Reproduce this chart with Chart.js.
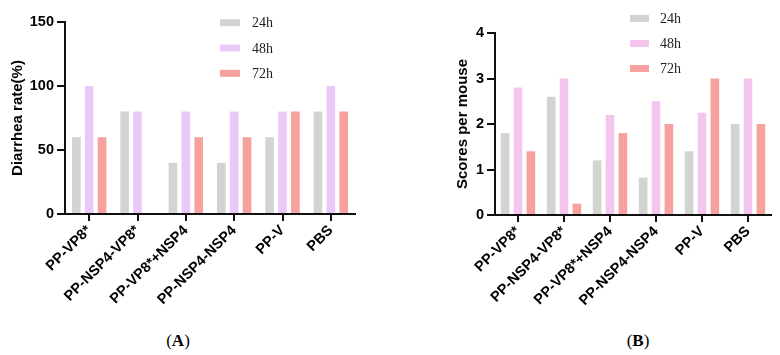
<!DOCTYPE html>
<html>
<head>
<meta charset="utf-8">
<script src="https://cdn.jsdelivr.net/npm/chart.js@4.4.1/dist/chart.umd.min.js"></script>
<style>
  html, body { margin: 0; padding: 0; background: #fff; }
  body { width: 780px; height: 355px; position: relative; overflow: hidden; }
  .wrap { position: absolute; top: 0; width: 390px; height: 320px; }
  .cap { position: absolute; top: 331px; font-family: "Liberation Serif", "Times New Roman", serif; font-size: 17px; color: #000; transform: translateX(-50%); }
</style>
</head>
<body>
<div class="wrap" style="left:0"><canvas id="cA" width="390" height="320"></canvas></div>
<div class="wrap" style="left:390px"><canvas id="cB" width="390" height="320"></canvas></div>
<div class="cap" style="left:178px">(<b>A</b>)</div>
<div class="cap" style="left:638px">(<b>B</b>)</div>
<script>
const categories = ["PP-VP8*", "PP-NSP4-VP8*", "PP-VP8*+NSP4", "PP-NSP4-NSP4", "PP-V", "PBS"];
const seriesNames = ["24h", "48h", "72h"];

const rate24 = [60, 80, 40, 40, 60, 80];
const rate48 = [100, 80, 80, 80, 80, 100];
const rate72 = [60, 0, 60, 60, 80, 80];

const score24 = [1.8, 2.6, 1.2, 0.82, 1.4, 2.0];
const score48 = [2.8, 3.0, 2.2, 2.5, 2.25, 3.0];
const score72 = [1.4, 0.25, 1.8, 2.0, 3.0, 2.0];

const rateTicks = [0, 50, 100, 150];
const scoreTicks = [0, 1, 2, 3, 4];

const boxLegend = {
  id: 'boxLegend',
  afterDraw(chart, args, opts) {
    const ctx = chart.ctx;
    ctx.save();
    chart.data.datasets.forEach((ds, i) => {
      const cy = opts.y0 + i * opts.dy;
      ctx.fillStyle = ds.backgroundColor;
      ctx.fillRect(opts.x, cy - opts.boxH / 2, opts.boxW, opts.boxH);
      ctx.fillStyle = '#222';
      ctx.font = '14px "Liberation Serif", "Times New Roman", serif';
      ctx.textBaseline = 'middle';
      ctx.textAlign = 'left';
      ctx.fillText(ds.label, opts.textX, cy + 1);
    });
    ctx.restore();
  }
};

const tickFont = { family: '"Liberation Sans", Arial, sans-serif', size: 14.5, weight: 'bold' };

function makeChart(id, d1, d2, d3, colors, yMax, yStep, yTitle, cfg) {
  return new Chart(document.getElementById(id), {
    type: 'bar',
    data: {
      labels: categories,
      datasets: [
        { label: seriesNames[0], data: d1, backgroundColor: colors[0] },
        { label: seriesNames[1], data: d2, backgroundColor: colors[1] },
        { label: seriesNames[2], data: d3, backgroundColor: colors[2] }
      ]
    },
    plugins: [boxLegend],
    options: {
      responsive: false,
      animation: false,
      events: [],
      categoryPercentage: cfg.cp,
      barPercentage: 0.67,
      layout: { padding: { left: cfg.padLeft, right: cfg.padRight, top: cfg.padTop, bottom: 0 } },
      plugins: {
        legend: { display: false },
        tooltip: { enabled: false },
        boxLegend: cfg.legend
      },
      scales: {
        x: {
          offset: true,
          grid: { display: true, offset: false, drawOnChartArea: false, drawTicks: true, tickLength: 7, color: '#111', lineWidth: 2 },
          border: { display: true, color: '#111', width: 2 },
          ticks: { color: '#000', font: tickFont, maxRotation: 45, minRotation: 45, padding: 1, autoSkip: false },
          afterFit(s) { s.height = cfg.xHeight; }
        },
        y: {
          min: 0, max: yMax,
          grid: { display: true, drawOnChartArea: false, drawTicks: true, tickLength: 8, color: '#111', lineWidth: 2 },
          border: { display: true, color: '#111', width: 2 },
          ticks: { stepSize: yStep, color: '#000', font: tickFont, padding: 3 },
          title: { display: true, text: yTitle, color: '#000', font: { family: '"Liberation Sans", Arial, sans-serif', size: 15, weight: 'bold' }, padding: { top: 9, bottom: 0 } },
          afterFit(s) { s.width = cfg.yWidth; }
        }
      }
    }
  });
}

makeChart('cA', rate24, rate48, rate72, ['#d3d3d1', '#e8c9f7', '#f6a19d'], rateTicks[rateTicks.length - 1], rateTicks[1] - rateTicks[0], 'Diarrhea rate(%)', {
  cp: 0.8, padLeft: 0, padRight: 35, padTop: 22, yWidth: 65, xHeight: 106,
  legend: { x: 220, y0: 22.7, dy: 25.3, boxW: 20, boxH: 7, textX: 252 }
});

makeChart('cB', score24, score48, score72, ['#d3d3d1', '#f4c6ee', '#f6a19d'], scoreTicks[scoreTicks.length - 1], scoreTicks[1] - scoreTicks[0], 'Scores per mouse', {
  cp: 0.84, padLeft: 55, padRight: 9, padTop: 33, yWidth: 50, xHeight: 105,
  legend: { x: 240, y0: 18.5, dy: 25, boxW: 19, boxH: 7, textX: 270 }
});
</script>
</body>
</html>
